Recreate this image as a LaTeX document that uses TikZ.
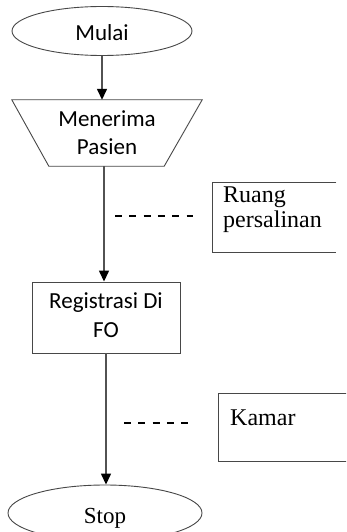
\documentclass[tikz,border=0pt]{standalone}
\usepackage{fontspec}
\setmainfont{Liberation Serif}
\newfontfamily\calib{Carlito}
\usetikzlibrary{shapes.geometric,arrows.meta}
\begin{document}
\begin{tikzpicture}[x=1pt,y=-1pt,
  shapeline/.style={draw=black!72, line width=0.9pt},
  flow/.style={draw=black!68, line width=1.4pt, -{Triangle[length=11pt,width=10pt,color=black]}},
  sanstxt/.style={font=\calib\fontsize{23}{28}\selectfont, align=center, text=black},
  seriftxt/.style={font=\fontsize{24}{25}\selectfont, align=left, text=black},
  dashline/.style={draw=black, line width=1.3pt, dash pattern=on 7pt off 7.3pt}]
\useasboundingbox (0,0) rectangle (346,532);
\clip (0,0) rectangle (346,532);
\fill[white] (0,0) rectangle (346,532);

% Start
\node[ellipse, shapeline, minimum width=180pt, minimum height=49pt, inner sep=0pt,
      sanstxt, text height=19pt, text depth=0pt] (mulai) at (102,31) {Mulai};

% Manual input (trapezoid)
\node[minimum width=190pt, minimum height=66pt, inner sep=0pt, sanstxt] (terima) at (107,133) {Menerima\\Pasien};
\draw[shapeline] (terima.north west) -- (terima.north east)
  -- ([xshift=-38pt]terima.south east) -- ([xshift=37pt]terima.south west) -- cycle;

% Process
\node[draw, shapeline, minimum width=148pt, minimum height=71pt, inner sep=0pt] (reg) at (106,317.5) {};
\node[sanstxt, font=\calib\fontsize{23}{29}\selectfont, anchor=north, inner sep=0pt] (regtxt) at (106,292) {Registrasi Di\\FO};

% Stop
\node[ellipse, shapeline, minimum width=194pt, minimum height=56pt, inner sep=0pt,
      font=\fontsize{23}{25}\selectfont, text=black, text height=20pt, text depth=0pt] (stop) at (105,513) {Stop};

% Side boxes
\node[minimum width=124pt, minimum height=70pt, anchor=north west, inner sep=0pt] (ruang) at (212,182) {};
\draw[shapeline] (ruang.north east) -- (ruang.north west) -- (ruang.south west) -- (ruang.south east);
\node[seriftxt, anchor=north west, inner sep=0pt] (ruangtxt) at (223,187) {Ruang\\persalinan};

\node[draw, shapeline, minimum width=150pt, minimum height=68pt, anchor=north west, inner sep=0pt] (kamar) at (218,393) {};
\node[seriftxt, anchor=base west, inner sep=0pt] (kamartxt) at (230,425) {Kamar};

% Flow arrows
\draw[flow] (mulai.south) -- (mulai.south |- terima.north);
\coordinate (tb) at ([xshift=-3pt]terima.south);
\draw[flow] (tb) -- (tb |- reg.north);
\draw[flow] (reg.south) -- (reg.south |- stop.north);

% Dashed links
\coordinate (d1a) at (115,216);
\coordinate (d1b) at (193.3,216);
\draw[dashline] (d1a) -- (d1b);
\coordinate (d2a) at (124,423);
\coordinate (d2b) at (188.3,423);
\draw[dashline] (d2a) -- (d2b);
\end{tikzpicture}
\end{document}
